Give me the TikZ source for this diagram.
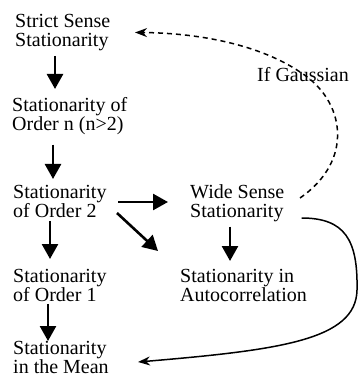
\documentclass[tikz,border=0pt]{standalone}
\usepackage{fontspec}
\setmainfont{Liberation Serif}
\usetikzlibrary{arrows.meta}

\begin{document}
\begin{tikzpicture}[x=1pt, y=-1pt, font=\fontsize{20}{19}\selectfont,
  box/.style={anchor=north west, align=left, inner sep=0pt},
  down/.style={line width=2.6pt, -{Triangle[length=15pt, width=16pt]}}]

\useasboundingbox (0, 0) rectangle (358, 379);

% nodes
\node[box] (strict) at (15, 14) {Strict Sense\\Stationarity};
\node[box] (ordern) at (12, 97) {Stationarity of\\Order n (n>2)};
\node[box] (order2) at (13, 185) {Stationarity\\of Order 2};
\node[box] (order1) at (13, 269) {Stationarity\\of Order 1};
\node[box] (mean) at (13, 341) {Stationarity\\in the Mean};
\node[box] (wss) at (190, 184) {Wide Sense\\Stationarity};
\node[box] (autocorr) at (180, 269) {Stationarity in\\Autocorrelation};
\node[box] (gauss) at (257, 67) {If Gaussian};

% straight arrows
\draw[down, shorten <=5pt, shorten >=8pt] (strict.south -| 55, 0) -- (ordern.north -| 55, 0);
\draw[down, shorten <=10pt, shorten >=6pt] (ordern.south -| 53, 0) -- (order2.north -| 53, 0);
\draw[down, shorten <=3pt, shorten >=10pt] (order2.south -| 50, 0) -- (order1.north -| 50, 0);
\draw[down, shorten <=2pt, shorten >=0pt] (order1.south -| 48, 0) -- (mean.north -| 48, 0);
\draw[down, shorten <=5pt, shorten >=8pt] (wss.south -| 230, 0) -- (autocorr.north -| 230, 0);
\draw[down, shorten >=22pt] (118, 202) -- (wss.west |- 0, 202);
\draw[down] (117, 213) -- ([xshift=-22pt, yshift=18pt]autocorr.north west);

% curves
\draw[line width=1.5pt, -{Stealth[length=12pt, width=9pt]}]
  ([xshift=17pt]wss.east |- 0, 218) .. controls (345, 218) and (358, 240) .. (357, 290)
  .. controls (356, 340) and (280, 350) .. (138, 362);
\draw[line width=1.5pt, dash pattern=on 5pt off 4pt, -{Stealth[length=12pt, width=9pt]}]
  (300, 198) .. controls (355, 160) and (345, 100) .. (300, 72)
  .. controls (260, 45) and (200, 33) .. (strict.east -| 135, 0);

\end{tikzpicture}
\end{document}
